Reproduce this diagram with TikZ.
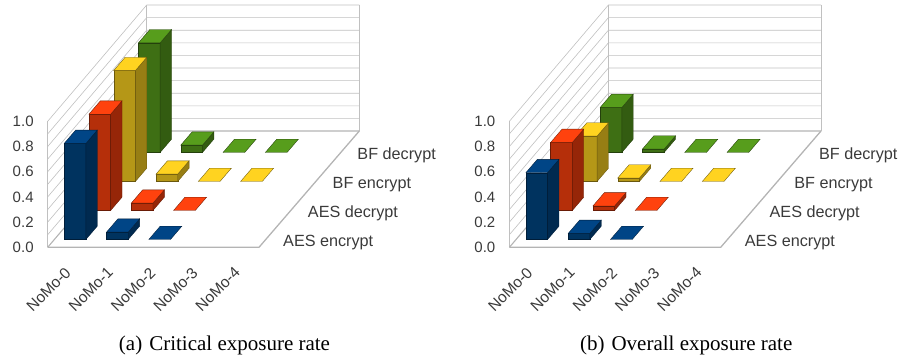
\documentclass[tikz,border=0pt]{standalone}
\usepackage{fontspec}
\setmainfont{Liberation Serif}
\newfontfamily\chartfont{Liberation Sans}

% series colours: T = top face, F = front face, S = side face
\definecolor{blueT}{HTML}{004586}
\definecolor{blueF}{HTML}{00335F}
\definecolor{blueS}{HTML}{002A50}
\definecolor{redT}{HTML}{FF420E}
\definecolor{redF}{HTML}{B52F0A}
\definecolor{redS}{HTML}{962608}
\definecolor{yelT}{HTML}{FFD320}
\definecolor{yelF}{HTML}{B59717}
\definecolor{yelS}{HTML}{977E14}
\definecolor{grnT}{HTML}{579D1C}
\definecolor{grnF}{HTML}{3E6F14}
\definecolor{grnS}{HTML}{335C11}
\definecolor{gridc}{HTML}{C0C0C0}
\definecolor{framec}{HTML}{B4B4B4}
\definecolor{labelc}{HTML}{3A3A3A}

% geometry (1 unit = 1pt, y grows downwards)
% front-left floor corner (47.7,247.3); category width 42.3; row depth (24.75,-29); unit height 126
\newcommand\cuboid[4]{% #1 category, #2 row, #3 value, #4 colour prefix
  \pgfmathsetmacro\bx{47.7 + #1*42.3 + 9.8 + (#2+0.27)*24.75}%
  \pgfmathsetmacro\by{247.3 - (#2+0.27)*29}%
  \pgfmathsetmacro\bh{#3*126}%
  \path[fill=#4F, draw=#4S!70!black, line width=.35pt] (\bx,\by) rectangle ++(21.7,-\bh);
  \path[fill=#4S, draw=#4S!70!black, line width=.35pt] (\bx+21.7,\by) -- ++(11.4,-13.3) -- ++(0,-\bh) -- ++(-11.4,13.3) -- cycle;
  \path[fill=#4T, draw=#4S!70!black, line width=.35pt] (\bx,\by-\bh) -- ++(21.7,0) -- ++(11.4,-13.3) -- ++(-21.7,0) -- cycle;
}
\newcommand\flatpad[3]{% #1 category, #2 row, #3 colour prefix
  \pgfmathsetmacro\bx{47.7 + #1*42.3 + 9.8 + (#2+0.27)*24.75}%
  \pgfmathsetmacro\by{247.3 - (#2+0.27)*29}%
  \path[fill=#3T, draw=#3S!70!black, line width=.35pt] (\bx,\by) -- ++(21.7,0) -- ++(11.4,-13.3) -- ++(-21.7,0) -- cycle;
}
% walls, floor and axis labels of one chart
\newcommand\chartframe{%
  \foreach \k in {1,...,10} {
    \draw[gridc, line width=.6pt] (47.7,247.3-\k*12.6) -- ++(99,-116.3) -- ++(212.6,0);
  }
  \draw[gridc, line width=.6pt] (47.7,247.3) -- (47.7,121.3);
  \draw[gridc, line width=.6pt] (146.7,131) -- (146.7,5);
  \draw[gridc, line width=.6pt] (359.3,131) -- (359.3,5);
  \draw[framec, line width=1.1pt] (47.7,247.3) -- (146.7,131) -- (359.3,131);
  \draw[framec, line width=1.3pt] (47.7,247.3) -- (259,247.3) -- (359.3,131);
  \foreach \v/\t [count=\n] in {0/0.0,0.2/0.2,0.4/0.4,0.6/0.6,0.8/0.8,1/1.0} {
    \node[axislabel, anchor=east] (y\n) at (33.8,247.3-\v*126) {\t};
  }
  \foreach \i in {0,...,4} {
    \node[catlabel, anchor=east, rotate=45] (c\i) at (47.7+\i*42.3+20.5,270) {NoMo-\i};
  }
  \foreach \t [count=\r from 0] in {AES encrypt,AES decrypt,BF encrypt,BF decrypt} {
    \node[rowlabel, anchor=west] (r\r) at (283+\r*24.75,242.3-\r*29) {\t};
  }
}

\begin{document}
\begin{tikzpicture}[x=1pt, y=-1pt,
  axislabel/.style={font=\chartfont\fontsize{15}{15}\selectfont, text=labelc, inner sep=0pt},
  catlabel/.style={font=\chartfont\fontsize{15.5}{16}\selectfont, text=labelc, inner sep=0pt},
  rowlabel/.style={font=\chartfont\fontsize{16.2}{16}\selectfont, text=labelc, inner sep=0pt},
  captext/.style={font=\fontsize{21}{23}\selectfont, anchor=base, inner sep=0pt}]
\useasboundingbox (0,0) rectangle (901,357);

% ---- (a) critical exposure rate ----
\begin{scope}[name prefix=a-]
  \chartframe
  \cuboid{0}{3}{0.87}{grn}  \cuboid{1}{3}{0.058}{grn} \flatpad{2}{3}{grn} \flatpad{3}{3}{grn}
  \cuboid{0}{2}{0.88}{yel}  \cuboid{1}{2}{0.058}{yel} \flatpad{2}{2}{yel} \flatpad{3}{2}{yel}
  \cuboid{0}{1}{0.764}{red} \cuboid{1}{1}{0.058}{red} \flatpad{2}{1}{red}
  \cuboid{0}{0}{0.762}{blue} \cuboid{1}{0}{0.058}{blue} \flatpad{2}{0}{blue}
  \node[captext] (cap) at (224.5,350) {(a)\hspace{7pt}Critical exposure rate};
\end{scope}

% ---- (b) overall exposure rate ----
\begin{scope}[xshift=461.7pt, name prefix=b-]
  \chartframe
  \cuboid{0}{3}{0.357}{grn} \cuboid{1}{3}{0.027}{grn} \flatpad{2}{3}{grn} \flatpad{3}{3}{grn}
  \cuboid{0}{2}{0.36}{yel}  \cuboid{1}{2}{0.027}{yel} \flatpad{2}{2}{yel} \flatpad{3}{2}{yel}
  \cuboid{0}{1}{0.54}{red}  \cuboid{1}{1}{0.036}{red} \flatpad{2}{1}{red}
  \cuboid{0}{0}{0.53}{blue} \cuboid{1}{0}{0.048}{blue} \flatpad{2}{0}{blue}
  \node[captext] (cap) at (224.5,350) {(b)\hspace{7pt}Overall exposure rate};
\end{scope}
\end{tikzpicture}
\end{document}
